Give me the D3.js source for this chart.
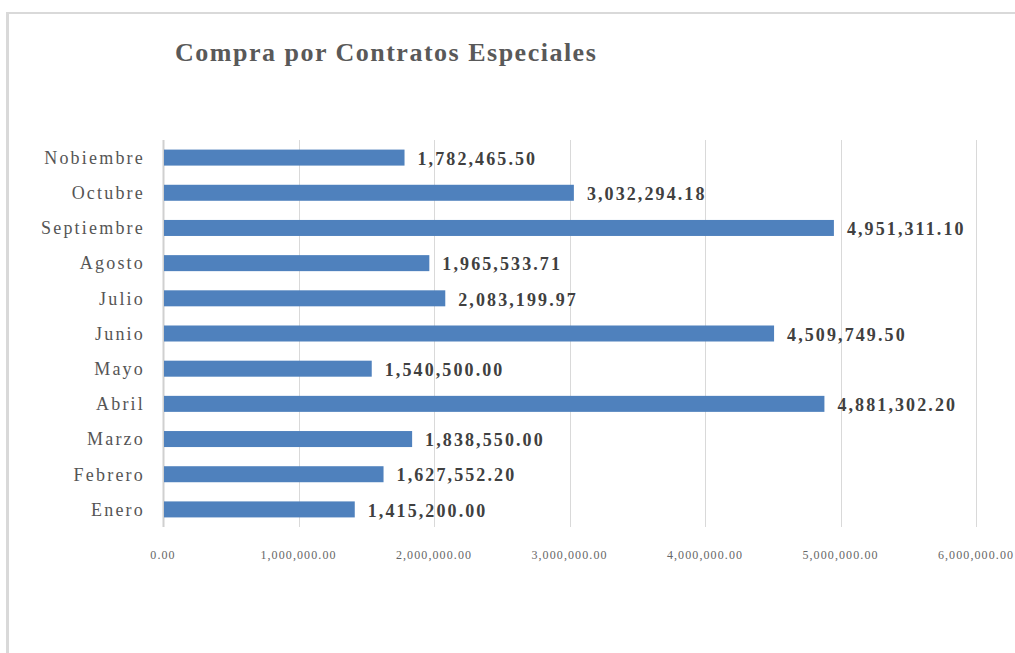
<!DOCTYPE html>
<html lang="es">
<head>
<meta charset="UTF-8" />
<title>Compra por Contratos Especiales</title>
<script src="https://cdn.jsdelivr.net/npm/d3@7"></script>
<style>
    body {
        margin: 0;
        background: #fff;
        overflow: hidden;
    }
    svg text {
        font-family: 'Liberation Serif', 'DejaVu Serif', serif;
    }
</style>
</head>
<body>
<svg id="chart"></svg>
<script>
    const months = ["Enero", "Febrero", "Marzo", "Abril", "Mayo", "Junio",
        "Julio", "Agosto", "Septiembre", "Octubre", "Nobiembre"];
    const amounts = [1415200.00, 1627552.20, 1838550.00, 4881302.20, 1540500.00, 4509749.50,
        2083199.97, 1965533.71, 4951311.10, 3032294.18, 1782465.50];
    const xTicks = [0, 1000000, 2000000, 3000000, 4000000, 5000000, 6000000];

    const width = 1015;
    const height = 653;
    const plot = { left: 163, right: 976, top: 140, bottom: 527 };

    const svg = d3.select("#chart")
        .attr("width", width)
        .attr("height", height);

    // chart frame (only top and left edges show)
    svg.append("line")
        .attr("x1", 7).attr("x2", width)
        .attr("y1", 13).attr("y2", 13)
        .attr("stroke", "#d9d9d9").attr("stroke-width", 2);
    svg.append("line")
        .attr("x1", 7.5).attr("x2", 7.5)
        .attr("y1", 12).attr("y2", height)
        .attr("stroke", "#d9d9d9").attr("stroke-width", 3);

    svg.append("text")
        .attr("x", 175)
        .attr("y", 61)
        .attr("fill", "#595959")
        .style("font-size", "26px")
        .style("font-weight", "bold")
        .style("letter-spacing", "1.5px")
        .text("Compra por Contratos Especiales");

    const x = d3.scaleLinear()
        .domain([0, 6000000])
        .range([plot.left, plot.right]);

    const y = d3.scaleBand()
        .domain(months.slice().reverse())
        .range([plot.top, plot.bottom])
        .paddingInner(0.545)
        .paddingOuter(0.2725);

    // gridlines
    svg.append("g")
        .selectAll("line")
        .data(xTicks)
        .enter().append("line")
        .attr("x1", d => Math.round(x(d)) + 0.5)
        .attr("x2", d => Math.round(x(d)) + 0.5)
        .attr("y1", plot.top)
        .attr("y2", plot.bottom)
        .attr("stroke", d => d === 0 ? "#d0d0d0" : "#d9d9d9")
        .attr("stroke-width", d => d === 0 ? 2 : 1);

    // x tick labels
    const fmt = d3.format(",.2f");
    svg.append("g")
        .selectAll("text")
        .data(xTicks)
        .enter().append("text")
        .attr("x", d => x(d))
        .attr("y", 559)
        .attr("text-anchor", "middle")
        .attr("fill", "#666")
        .style("font-size", "12px")
        .style("letter-spacing", "1.1px")
        .text(d => fmt(d));

    const rows = months.map((m, i) => ({ month: m, value: amounts[i] }));

    svg.append("g")
        .selectAll("rect")
        .data(rows)
        .enter().append("rect")
        .attr("x", x(0) + 1)
        .attr("y", d => y(d.month))
        .attr("width", d => x(d.value) - x(0) - 1)
        .attr("height", y.bandwidth())
        .attr("fill", "#4f81bd");

    // category labels
    svg.append("g")
        .selectAll("text")
        .data(rows)
        .enter().append("text")
        .attr("x", 145)
        .attr("y", d => y(d.month) + y.bandwidth() / 2)
        .attr("dy", "0.35em")
        .attr("text-anchor", "end")
        .attr("fill", "#555")
        .style("font-size", "18px")
        .style("letter-spacing", "2.2px")
        .text(d => d.month);

    // value labels
    svg.append("g")
        .selectAll("text")
        .data(rows)
        .enter().append("text")
        .attr("x", d => x(d.value) + 13)
        .attr("y", d => y(d.month) + y.bandwidth() / 2)
        .attr("dy", "0.4em")
        .attr("fill", "#404040")
        .style("font-size", "18px")
        .style("font-weight", "bold")
        .style("letter-spacing", "2.1px")
        .text(d => fmt(d.value));
</script>
</body>
</html>
